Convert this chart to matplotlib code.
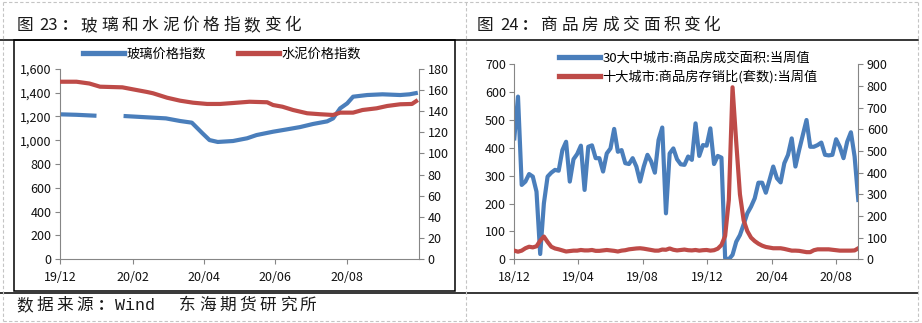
import numpy as np
import pandas as pd
import matplotlib
matplotlib.use('Agg')
import matplotlib.pyplot as plt
import matplotlib.dates as mdates
from matplotlib.lines import Line2D
from matplotlib.patches import Rectangle
from matplotlib.ticker import FuncFormatter, MultipleLocator

plt.rcParams['font.family'] = ['Noto Sans CJK SC', 'DejaVu Sans']

# 图23 玻璃 / 水泥价格指数
glass_dates = ['2019-12-01', '2019-12-15', '2020-01-01', '2020-01-12', '2020-01-24',
               '2020-02-29', '2020-03-12', '2020-03-22', '2020-03-31', '2020-04-06',
               '2020-04-13', '2020-04-26', '2020-05-08', '2020-05-16', '2020-05-30',
               '2020-06-11', '2020-06-22', '2020-07-03', '2020-07-15', '2020-07-20',
               '2020-07-26', '2020-08-01', '2020-08-06', '2020-08-18', '2020-08-31',
               '2020-09-15', '2020-09-23', '2020-09-30']
glass_index = [1217, 1213, 1205, np.nan, 1203, 1183, 1161, 1147, 1058, 1001,
               985, 993, 1016, 1043, 1071, 1091, 1110, 1136, 1158, 1183,
               1267, 1309, 1365, 1379, 1385, 1379, 1385, 1398]

cement_dates = ['2019-12-01', '2019-12-15', '2019-12-26', '2020-01-04', '2020-01-23',
                '2020-02-01', '2020-02-13', '2020-02-18', '2020-03-01', '2020-03-12',
                '2020-03-23', '2020-04-04', '2020-04-15', '2020-04-26', '2020-05-10',
                '2020-05-25', '2020-05-30', '2020-06-07', '2020-06-16', '2020-06-28',
                '2020-07-09', '2020-07-20', '2020-07-26', '2020-08-06', '2020-08-14',
                '2020-08-26', '2020-09-04', '2020-09-15', '2020-09-25', '2020-09-30']
cement_index = [167.7, 167.7, 166, 163, 162.4, 160.5, 158, 156.8, 152.6, 149.8,
                147.9, 146.7, 146.7, 147.6, 148.8, 148.3, 145.7, 144.1, 141, 137.9,
                137, 136.3, 138.5, 138.5, 141, 142.6, 144.8, 146.4, 146.7, 150.4]

# 图24 商品房成交面积 / 存销比 (周度)
week_start = '2018-12-01'
n_weeks = 94
area_30city = [434, 584, 267, 279, 306, 297, 243, 19, 201, 297,
               311, 321, 318, 392, 422, 279, 359, 378, 408, 249,
               404, 409, 363, 363, 315, 380, 398, 468, 386, 392,
               345, 342, 363, 333, 279, 333, 375, 351, 311, 428,
               473, 165, 380, 398, 359, 341, 339, 369, 357, 488,
               371, 410, 408, 470, 342, 371, 365, 4, 0, 16,
               63, 87, 125, 165, 189, 219, 275, 275, 239, 285,
               333, 291, 276, 345, 375, 434, 333, 392, 446, 500,
               404, 404, 410, 419, 375, 373, 375, 431, 404, 363,
               422, 456, 369, 213]
stock_ratio_10city = [40, 35, 40, 51, 58, 55, 60, 86, 105, 80,
                      58, 50, 46, 41, 36, 38, 40, 40, 43, 41,
                      41, 43, 39, 39, 41, 43, 41, 39, 36, 40,
                      42, 46, 48, 50, 51, 49, 46, 43, 40, 40,
                      45, 44, 50, 44, 41, 43, 45, 42, 41, 43,
                      40, 42, 43, 40, 42, 49, 66, 108, 274, 794,
                      540, 300, 180, 130, 100, 84, 72, 63, 57, 54,
                      51, 51, 51, 48, 44, 40, 40, 39, 36, 33,
                      33, 42, 46, 46, 46, 46, 44, 42, 40, 40,
                      40, 40, 41, 51]

left_labels = ['玻璃价格指数', '水泥价格指数']
right_labels = ['30大中城市:商品房成交面积:当周值', '十大城市:商品房存销比(套数):当周值']

W, H = 922, 323
BLUE = '#4A7EBB'
RED = '#BE4B48'
AXIS = '#868686'
LW = 3.0


def fx(x):
    return x / W


def fy(y):
    return 1 - y / H


def hline(fig, x0, x1, y, **kw):
    fig.add_artist(Line2D([fx(x0), fx(x1)], [fy(y), fy(y)], transform=fig.transFigure, **kw))


def vline(fig, x, y0, y1, **kw):
    fig.add_artist(Line2D([fx(x), fx(x)], [fy(y0), fy(y1)], transform=fig.transFigure, **kw))


def spaced(fig, x, y, text, pitch, **kw):
    # one glyph at a time, fixed pitch
    for i, ch in enumerate(text):
        fig.text(fx(x + i * pitch), fy(y), ch, ha='center', va='center', **kw)


def style_axes(ax1, ax2):
    for s in ['top', 'right']:
        ax1.spines[s].set_visible(False)
    for s in ['top', 'left', 'bottom']:
        ax2.spines[s].set_visible(False)
    for sp in [ax1.spines['left'], ax1.spines['bottom'], ax2.spines['right']]:
        sp.set_color(AXIS)
        sp.set_linewidth(0.8)
    for ax in (ax1, ax2):
        ax.tick_params(axis='both', direction='out', length=3.6, width=0.8,
                       color=AXIS, labelsize=9, pad=2.5, labelcolor='#111111')
    ax1.tick_params(axis='x', pad=5)


def add_title(fig, x0, num, text):
    kw = dict(fontsize=12, color='#1a1a1a')
    fig.text(fx(x0 + 8), fy(25.5), '图', ha='center', va='center', **kw)
    fig.text(fx(x0 + 32), fy(25.5), num, ha='center', va='center', **kw)
    fig.text(fx(x0 + 48), fy(25.5), ':', ha='center', va='center', fontweight='bold', **kw)
    spaced(fig, x0 + 72, 25.5, text, 20.35, **kw)


fig = plt.figure(figsize=(W / 100, H / 100), dpi=100)
fig.patch.set_facecolor('white')

# ---- left chart
ax1 = fig.add_axes([fx(60), fy(259.3), (419 - 60) / W, (259.3 - 68.7) / H])
ax2 = ax1.twinx()
ax1.plot(pd.to_datetime(glass_dates), glass_index, color=BLUE, lw=LW,
         solid_joinstyle='round', solid_capstyle='butt')
ax2.plot(pd.to_datetime(cement_dates), cement_index, color=RED, lw=LW,
         solid_joinstyle='round', solid_capstyle='butt')
ax1.set_xlim(pd.Timestamp('2019-12-01'), pd.Timestamp('2020-10-01'))
ax1.set_ylim(0, 1600)
ax2.set_ylim(0, 180)
ax1.yaxis.set_major_locator(MultipleLocator(200))
ax1.yaxis.set_major_formatter(FuncFormatter(lambda v, p: f'{v:,.0f}'))
ax2.yaxis.set_major_locator(MultipleLocator(20))
ax1.xaxis.set_major_locator(mdates.MonthLocator(bymonth=[12, 2, 4, 6, 8]))
ax1.xaxis.set_major_formatter(mdates.DateFormatter('%y/%m'))
style_axes(ax1, ax2)

h_left = [Line2D([], [], color=BLUE, lw=3.8), Line2D([], [], color=RED, lw=3.8)]
fig.legend(h_left, left_labels, loc='center', bbox_to_anchor=(fx(222), fy(54)), ncol=2,
           frameon=False, fontsize=9.5, handlelength=3.1, handletextpad=0.2,
           columnspacing=2.4, borderpad=0, borderaxespad=0)

# ---- right chart
weeks = pd.date_range(week_start, periods=n_weeks, freq='7D')
bx1 = fig.add_axes([fx(514.3), fy(259.3), (858.3 - 514.3) / W, (259.3 - 64.3) / H])
bx2 = bx1.twinx()
bx1.plot(weeks, area_30city, color=BLUE, lw=LW, solid_joinstyle='round')
bx2.plot(weeks, stock_ratio_10city, color=RED, lw=LW, solid_joinstyle='round')
bx1.set_xlim(weeks[0], weeks[-1])
bx1.set_ylim(0, 700)
bx2.set_ylim(0, 900)
bx1.yaxis.set_major_locator(MultipleLocator(100))
bx2.yaxis.set_major_locator(MultipleLocator(100))
bx1.xaxis.set_major_locator(mdates.MonthLocator(bymonth=[12, 4, 8]))
bx1.xaxis.set_major_formatter(mdates.DateFormatter('%y/%m'))
style_axes(bx1, bx2)

h_right = [Line2D([], [], color=BLUE, lw=3.8), Line2D([], [], color=RED, lw=3.8)]
fig.legend(h_right, right_labels, loc='center', bbox_to_anchor=(fx(688), fy(67.8)), ncol=1,
           frameon=False, fontsize=9.5, handlelength=3.1, handletextpad=0.2,
           labelspacing=0.35, borderpad=0, borderaxespad=0)

# ---- titles, frames, source line
add_title(fig, 17, '23', '玻璃和水泥价格指数变化')
add_title(fig, 477.3, '24', '商品房成交面积变化')

fig.add_artist(Rectangle((fx(14), fy(291)), (455 - 14) / W, (291 - 40) / H, fill=False,
                         edgecolor='black', lw=1.1, transform=fig.transFigure))
hline(fig, 0, 918, 40, color='black', lw=1.1)
hline(fig, 0, 918, 293, color='black', lw=1.1)

dash = dict(color='#c4c4c4', lw=0.8, ls=(0, (3, 2)))
vline(fig, 3, 2, 321, **dash)
vline(fig, 466, 2, 321, **dash)
vline(fig, 918, 2, 321, **dash)
hline(fig, 3, 918, 2, **dash)
hline(fig, 3, 918, 321, **dash)

src = dict(fontsize=12, color='#1a1a1a')
spaced(fig, 25, 305.5, '数据来源', 20, **src)
fig.text(fx(101), fy(305.5), ':', ha='center', va='center', fontweight='bold', **src)
fig.text(fx(115), fy(305.5), 'Wind', ha='left', va='center', family='Liberation Mono',
         fontsize=12, color='#1a1a1a')
spaced(fig, 187, 305.5, '东海期货研究所', 20.2, **src)

fig.savefig('out.png', dpi=100)
